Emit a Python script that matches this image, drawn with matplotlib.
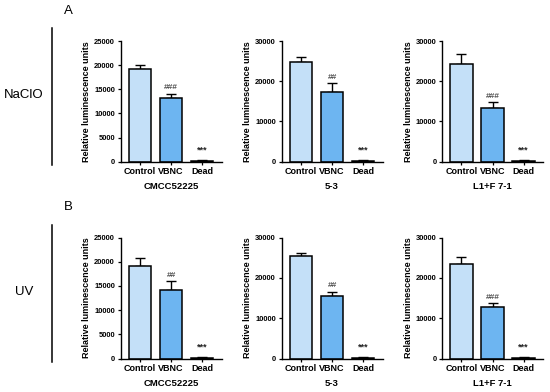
import numpy as np
import matplotlib
matplotlib.use("Agg")
import matplotlib.pyplot as plt

plt.rcParams["font.family"] = ["Liberation Sans", "DejaVu Sans"]

GROUPS = ["Control", "VBNC", "Dead"]
STRAINS = ["CMCC52225", "5-3", "L1+F 7-1"]
ROW_LABELS = ["NaClO", "UV"]
PANEL_LETTERS = ["A", "B"]

# mean / upper error (SD) per panel, rows = treatment, cols = strain
MEANS = {
    "NaClO": [[19100, 13200, 150], [24800, 17200, 200], [24200, 13250, 200]],
    "UV":    [[19100, 14250, 150], [25450, 15550, 180], [23500, 12900, 180]],
}
ERRS = {
    "NaClO": [[900, 850, 120], [1300, 2250, 130], [2450, 1500, 130]],
    "UV":    [[1650, 1700, 120], [750, 1050, 120], [1600, 850, 120]],
}
YMAX = [25000, 30000, 30000]
YTICKS = [[0, 5000, 10000, 15000, 20000, 25000],
          [0, 10000, 20000, 30000],
          [0, 10000, 20000, 30000]]
HASHES = {"NaClO": ["###", "##", "###"], "UV": ["##", "##", "###"]}
STARS = "***"

COLORS = ["#C4E0F8", "#6DB5F1", "#6DB5F1"]

W, H = 550, 392
fig = plt.figure(figsize=(W / 100, H / 100), dpi=100)

lefts = [120.5, 281.5, 442]
row_top = [41, 237.5]
row_bot = [161.7, 358.7]
ax_w = 101

for r, treat in enumerate(ROW_LABELS):
    for c, strain in enumerate(STRAINS):
        ax = fig.add_axes([lefts[c] / W, 1 - row_bot[r] / H,
                           ax_w / W, (row_bot[r] - row_top[r]) / H])
        x = np.arange(len(GROUPS))
        m = MEANS[treat][c]
        e = ERRS[treat][c]
        ax.bar(x, m, width=0.72, color=COLORS, edgecolor="black", linewidth=1.1, zorder=2)
        ax.errorbar(x, m, yerr=[np.zeros(3), e], fmt="none", ecolor="black",
                    elinewidth=1.0, capsize=3.5, capthick=1.0, zorder=1)
        ax.set_xlim(-0.62, 2.62)
        ax.set_ylim(0, YMAX[c])
        ax.set_yticks(YTICKS[c])
        ax.set_yticklabels([str(v) for v in YTICKS[c]], fontsize=5.4, fontweight="bold")
        ax.set_xticks(x)
        ax.set_xticklabels(GROUPS, fontsize=6.5, fontweight="bold")
        ax.tick_params(length=2.5, width=0.9, pad=1.5)
        for s in ["top", "right"]:
            ax.spines[s].set_visible(False)
        for s in ["left", "bottom"]:
            ax.spines[s].set_linewidth(1.0)
        ax.set_ylabel("Relative luminescence units", fontsize=6.5, fontweight="bold", labelpad=2)
        ax.set_xlabel(strain, fontsize=6.8, fontweight="bold", labelpad=4)
        ax.text(1, m[1] + e[1] + YMAX[c] * 0.02, HASHES[treat][c], ha="center", va="bottom",
                fontsize=6, fontweight="bold", color="#555555")
        ax.text(2, m[2] + e[2] + YMAX[c] * 0.05, STARS, ha="center", va="bottom",
                fontsize=6.5, fontweight="bold", color="#222222")

    # row annotations
    y_mid = 1 - (row_top[r] + row_bot[r]) / 2 / H
    fig.text(24 / W, y_mid + 6 / H, treat, ha="center", va="center", fontsize=9.5)
    fig.add_artist(plt.Line2D([52 / W, 52 / W],
                              [1 - (row_top[r] - 13) / H, 1 - (row_bot[r] + 3) / H],
                              color="black", linewidth=1.1))
    fig.text(68 / W, 1 - (row_top[r] - 30) / H, PANEL_LETTERS[r], ha="center", va="center",
             fontsize=9.5)

fig.savefig("out.png", dpi=100)
